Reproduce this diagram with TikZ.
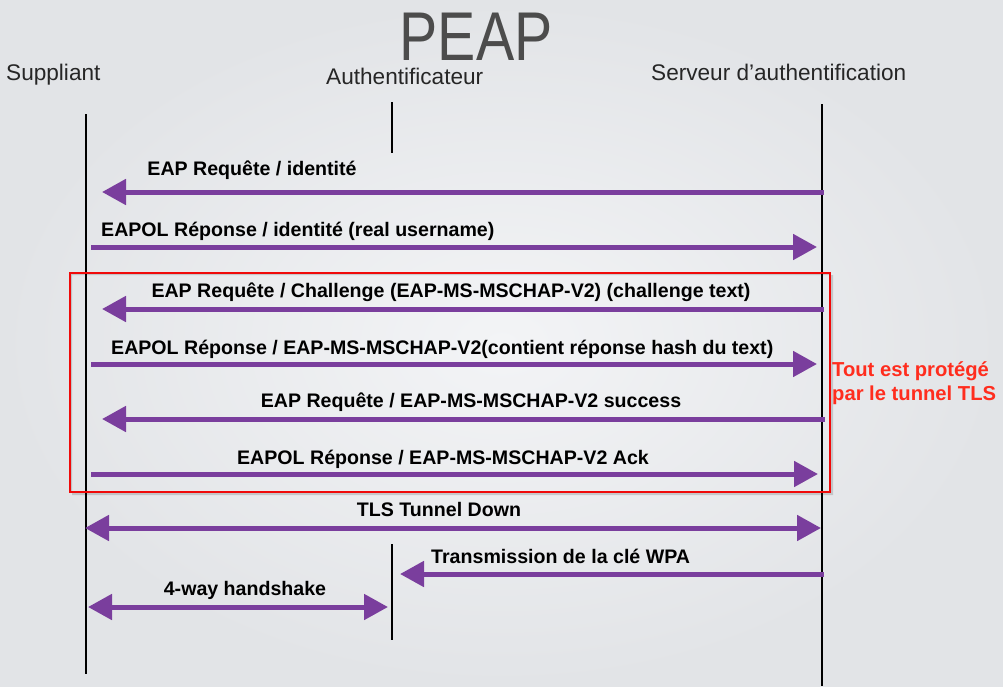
\documentclass[tikz,border=0pt]{standalone}
\usepackage{fontspec}
\setmainfont{Liberation Sans}
\usetikzlibrary{arrows.meta}
\definecolor{msgpurple}{RGB}{122,62,157}
\definecolor{boxred}{RGB}{240,10,10}
\definecolor{notered}{RGB}{255,45,30}
\definecolor{bgin}{RGB}{243,244,246}
\definecolor{bgout}{RGB}{226,228,231}
\tikzset{
  msg/.style={draw=msgpurple, line width=5pt, -{Triangle[length=24pt,width=25pt]}},
  msgboth/.style={draw=msgpurple, line width=5pt, {Triangle[length=24pt,width=25pt]}-{Triangle[length=24pt,width=25pt]}},
  life/.style={draw=black, line width=2pt},
  lbl/.style={inner sep=0pt, font=\fontsize{19.6}{22}\selectfont\bfseries, text=black},
  note/.style={inner sep=0pt, font=\fontsize{20.2}{24}\selectfont\bfseries, text=notered},
  head/.style={inner sep=0pt, font=\fontsize{22.6}{26}\selectfont, text=black!85},
}
\begin{document}
\begin{tikzpicture}[x=1pt,y=-1pt]
\useasboundingbox (0,0) rectangle (1003,686);
\shade[inner color=bgin, outer color=bgout] (0,0) rectangle (1003,686);

% title and headings
\node[inner sep=0pt, anchor=base, text=black!70, font=\fontsize{69}{69}\selectfont, xscale=0.83] (title) at (476,60) {PEAP};
\node[head, anchor=base west] (hsup) at (6,80) {Suppliant};
\node[head, anchor=base west] (haut) at (326,84) {Authentificateur};
\node[head, anchor=base west] (hsrv) at (651,80) {Serveur d’authentification};

% lifelines
\coordinate (sTop) at (86,114);
\coordinate (sBot) at (86,674);
\coordinate (aTop) at (392,102);
\coordinate (aMid) at (392,153);
\coordinate (aLow) at (392,544);
\coordinate (aBot) at (392,640);
\coordinate (vTop) at (822,104);
\coordinate (vBot) at (822,686);
\draw[life] (sTop) -- (sBot);
\draw[life] (aTop) -- (aMid);
\draw[life] (aLow) -- (aBot);
\draw[life] (vTop) -- (vBot);

% red box with shadow
\fill[black, opacity=0.15, even odd rule] (72,275) rectangle (833,495) (70,273) rectangle (830,492);
\draw[draw=boxred, line width=2pt] (70,273) rectangle (830,492);

% messages
\coordinate (m1s) at (824,192); \coordinate (m1e) at (102,192);
\coordinate (m2s) at (91,247);  \coordinate (m2e) at (817,247);
\coordinate (m3s) at (824,309); \coordinate (m3e) at (102,309);
\coordinate (m4s) at (91,364);  \coordinate (m4e) at (817,364);
\coordinate (m5s) at (825,419); \coordinate (m5e) at (102,419);
\coordinate (m6s) at (91,474);  \coordinate (m6e) at (818,474);
\coordinate (m7s) at (85,528);  \coordinate (m7e) at (821,528);
\coordinate (m8s) at (824,574); \coordinate (m8e) at (400,574);
\coordinate (m9s) at (88,607);  \coordinate (m9e) at (388,607);

\draw[msg] (m1s) -- (m1e);
\draw[msg] (m2s) -- (m2e);
\draw[msg] (m3s) -- (m3e);
\draw[msg] (m4s) -- (m4e);
\draw[msg] (m5s) -- (m5e);
\draw[msg] (m6s) -- (m6e);
\draw[msgboth] (m7s) -- (m7e);
\draw[msg] (m8s) -- (m8e);
\draw[msgboth] (m9s) -- (m9e);

% labels
\node[lbl, anchor=base] (l1) at (252,175) {EAP Requête / identité};
\node[lbl, anchor=base west] (l2) at (101,236) {EAPOL Réponse / identité (real username)};
\node[lbl, anchor=base] (l3) at (451,297) {EAP Requête / Challenge (EAP-MS-MSCHAP-V2) (challenge text)};
\node[lbl, anchor=base west] (l4) at (111,354) {EAPOL Réponse / EAP-MS-MSCHAP-V2(contient réponse hash du text)};
\node[lbl, anchor=base] (l5) at (471,407) {EAP Requête / EAP-MS-MSCHAP-V2 success};
\node[lbl, anchor=base] (l6) at (443,464) {EAPOL Réponse / EAP-MS-MSCHAP-V2 Ack};
\node[lbl, anchor=base] (l7) at (439,516) {TLS Tunnel Down};
\node[lbl, anchor=base west] (l8) at (431,563) {Transmission de la clé WPA};
\node[lbl, anchor=base] (l9) at (245,595) {4-way handshake};

% note
\node[note, anchor=base west] (n1) at (832,376) {Tout est protégé};
\node[note, anchor=base west] (n2) at (832,400) {par le tunnel TLS};
\end{tikzpicture}
\end{document}
